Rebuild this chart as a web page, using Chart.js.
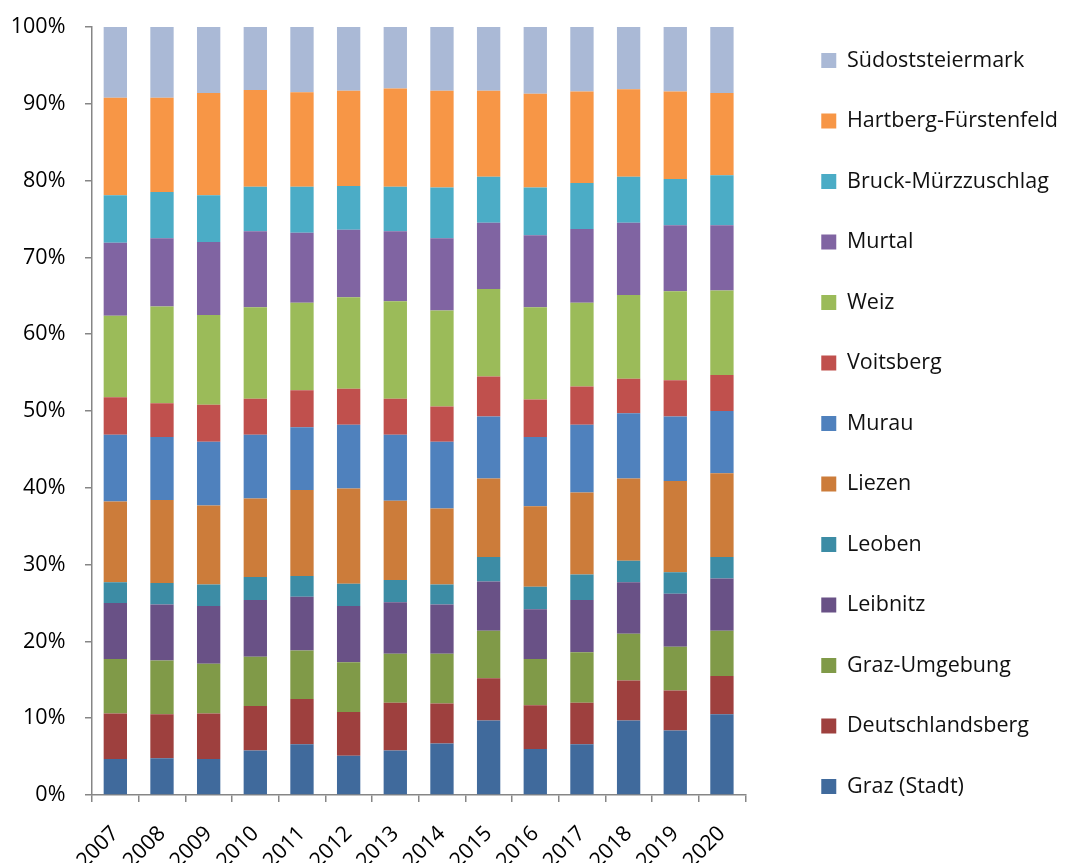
<!DOCTYPE html>
<html>
<head>
<meta charset="utf-8">
<script src="https://cdn.jsdelivr.net/npm/chart.js@4/dist/chart.umd.min.js"></script>
<style>
  html, body { margin: 0; padding: 0; background: #fff; overflow: hidden; }
  #wrap { width: 1068px; height: 863px; }
  canvas { display: block; }
</style>
</head>
<body>
<div id="wrap"><canvas id="myChart" width="1068" height="863"></canvas></div>
<script>
// years on the x axis
var years = ['2007', '2008', '2009', '2010', '2011', '2012', '2013', '2014', '2015', '2016', '2017', '2018', '2019', '2020'];

// share per district (%), bottom to top
var grazStadt        = [4.7, 4.8, 4.7, 5.8, 6.6, 5.1, 5.8, 6.7, 9.7, 6.0, 6.6, 9.7, 8.4, 10.5];
var deutschlandsberg = [5.9, 5.7, 5.9, 5.8, 5.9, 5.7, 6.2, 5.2, 5.5, 5.7, 5.4, 5.2, 5.2, 5.0];
var grazUmgebung     = [7.1, 7.0, 6.5, 6.4, 6.3, 6.5, 6.4, 6.5, 6.2, 6.0, 6.6, 6.1, 5.7, 5.9];
var leibnitz         = [7.3, 7.3, 7.5, 7.4, 7.0, 7.3, 6.7, 6.4, 6.4, 6.5, 6.8, 6.7, 6.9, 6.8];
var leoben           = [2.7, 2.8, 2.8, 3.0, 2.7, 2.9, 2.9, 2.6, 3.2, 2.9, 3.3, 2.8, 2.8, 2.8];
var liezen           = [10.5, 10.8, 10.3, 10.2, 11.2, 12.4, 10.3, 9.9, 10.2, 10.5, 10.7, 10.7, 11.9, 10.9];
var murau            = [8.7, 8.2, 8.3, 8.3, 8.2, 8.3, 8.6, 8.7, 8.1, 9.0, 8.8, 8.5, 8.4, 8.1];
var voitsberg        = [4.9, 4.4, 4.8, 4.7, 4.8, 4.7, 4.7, 4.6, 5.2, 4.9, 5.0, 4.5, 4.7, 4.7];
var weiz             = [10.6, 12.6, 11.7, 11.9, 11.4, 11.9, 12.7, 12.5, 11.4, 12.0, 10.9, 10.9, 11.6, 11.0];
var murtal           = [9.5, 8.9, 9.5, 9.9, 9.1, 8.8, 9.1, 9.4, 8.6, 9.4, 9.6, 9.4, 8.6, 8.5];
var bruckMurz        = [6.2, 6.0, 6.1, 5.8, 6.0, 5.7, 5.8, 6.6, 6.0, 6.2, 6.0, 6.0, 6.0, 6.5];
var hartberg         = [12.7, 12.3, 13.3, 12.6, 12.3, 12.4, 12.8, 12.6, 11.2, 12.2, 11.9, 11.4, 11.4, 10.7];
var suedost          = [9.2, 9.2, 8.6, 8.2, 8.5, 8.3, 8.0, 8.3, 8.3, 8.7, 8.4, 8.1, 8.4, 8.6];

// y axis ticks
var yTicks = [0, 10, 20, 30, 40, 50, 60, 70, 80, 90, 100];

window.onload = function () {

    Chart.defaults.font.family = "'Open Sans', sans-serif";
    Chart.defaults.font.size = 21;
    Chart.defaults.color = '#000';

    function ds(label, data, color) {
        return {
            label: label,
            data: data,
            backgroundColor: color,
            borderWidth: 0,
            barPercentage: 0.5,
            categoryPercentage: 1.0
        };
    }

    // nudge the legend up a little, it sits slightly above centre in the original
    var legendShift = {
        id: 'legendShift',
        afterLayout: function (chart) {
            chart.legend.top -= 8;
            chart.legend.bottom -= 8;
        }
    };

    var ctx = document.getElementById('myChart').getContext('2d');

    var myChart = new Chart(ctx, {
        type: 'bar',
        data: {
            labels: years,
            datasets: [
                ds('Graz (Stadt)', grazStadt, '#406A9C'),
                ds('Deutschlandsberg', deutschlandsberg, '#9E403E'),
                ds('Graz-Umgebung', grazUmgebung, '#809A48'),
                ds('Leibnitz', leibnitz, '#695186'),
                ds('Leoben', leoben, '#3C8CA5'),
                ds('Liezen', liezen, '#CC7C3A'),
                ds('Murau', murau, '#4F81BD'),
                ds('Voitsberg', voitsberg, '#C0504D'),
                ds('Weiz', weiz, '#9BBB59'),
                ds('Murtal', murtal, '#8064A2'),
                ds('Bruck-Mürzzuschlag', bruckMurz, '#4BACC6'),
                ds('Hartberg-Fürstenfeld', hartberg, '#F79646'),
                ds('Südoststeiermark', suedost, '#AAB9D6')
            ]
        },
        plugins: [legendShift],
        options: {
            responsive: false,
            animation: false,
            layout: { padding: 0 },
            plugins: {
                legend: {
                    position: 'right',
                    reverse: true,
                    maxWidth: 286,
                    labels: {
                        boxWidth: 15,
                        boxHeight: 15,
                        padding: 39,
                        color: '#111',
                        font: { size: 21.5 }
                    }
                },
                tooltip: { enabled: false }
            },
            scales: {
                x: {
                    stacked: true,
                    border: { color: '#868686', width: 1.5 },
                    grid: { offset: true, drawOnChartArea: false, color: '#868686', tickLength: 7, lineWidth: 1.5 },
                    ticks: { maxRotation: 45, minRotation: 45, padding: 19, font: { size: 21.5 } },
                    afterFit: function (s) { s.height = 68; }
                },
                xPad: {
                    position: 'top',
                    display: true,
                    grid: { display: false },
                    border: { display: false },
                    ticks: { display: false },
                    afterFit: function (s) { s.height = 27; }
                },
                y: {
                    stacked: true,
                    min: 0,
                    max: 100,
                    afterBuildTicks: function (s) {
                        s.ticks = yTicks.map(function (v) { return { value: v }; });
                    },
                    border: { color: '#868686', width: 1.5 },
                    grid: { drawOnChartArea: false, color: '#868686', tickLength: 7, lineWidth: 1.5 },
                    ticks: {
                        padding: 14,
                        font: { size: 21.5 },
                        callback: function (v) { return v + '% '; }
                    },
                    afterFit: function (s) { s.width = 92; }
                },
                yPad: {
                    position: 'right',
                    display: true,
                    grid: { display: false },
                    border: { display: false },
                    ticks: { display: false },
                    afterFit: function (s) { s.width = 37; }
                }
            }
        }
    });
};
</script>
</body>
</html>
